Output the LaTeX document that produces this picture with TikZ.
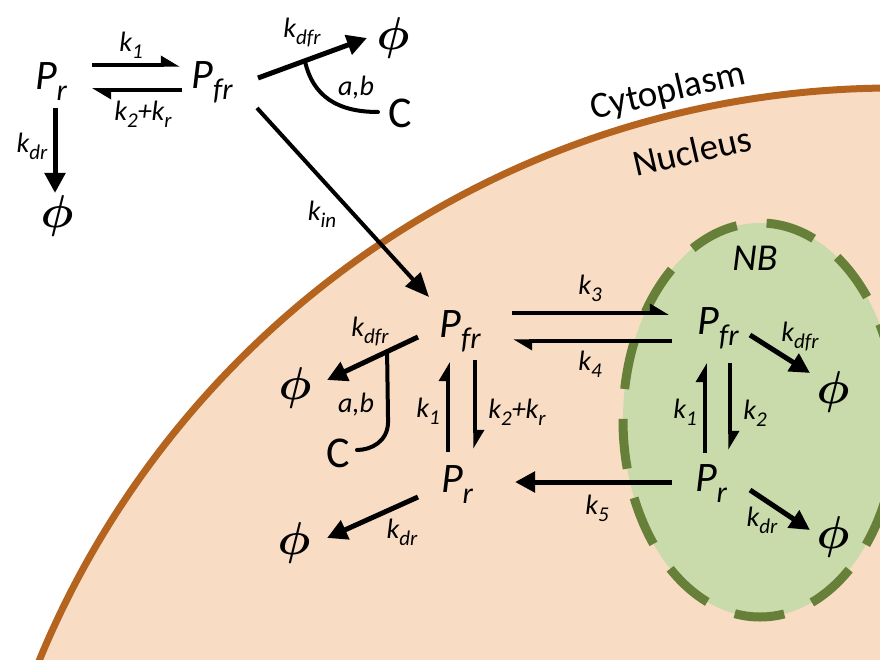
\documentclass[tikz,border=0pt]{standalone}
\usepackage{fontspec}
\setmainfont{Carlito}
\usetikzlibrary{arrows.meta,positioning,calc}
\definecolor{nucfill}{HTML}{F9DCC4}
\definecolor{nucline}{HTML}{B4641E}
\definecolor{nbfill}{HTML}{C9DBAA}
\definecolor{nbline}{HTML}{66803A}
\newcommand\spc[2]{#1\raisebox{-11pt}{\fontsize{30}{30}\selectfont #2}}
\newcommand\rk[1]{k\raisebox{-7pt}{\fontsize{21}{21}\selectfont #1}}
\newcommand\gone{\scalebox{4.6}{\boldmath$\phi$}}

\begin{document}
\begin{tikzpicture}[x=1pt, y=-1pt, mol/.style={font=\fontsize{42}{42}\selectfont\itshape, inner sep=0pt}, rate/.style={font=\fontsize{28}{28}\selectfont\itshape, inner sep=0pt}, sink/.style={inner sep=0pt}, word/.style={font=\fontsize{37}{37}\selectfont, inner sep=0pt}, harp/.style={line width=3.5pt, -{Triangle[left, length=16pt, width=18pt]}}, thk/.style={line width=5pt, -{Triangle[length=20pt, width=20pt]}}, hook/.style={line width=4pt, line cap=round}]
\useasboundingbox (0,0) rectangle (880,660);
% nucleus and nuclear body
\begin{scope}
\clip (0,0) rectangle (880,660);
\fill[nucfill] (894,1012) circle[radius=924];
\draw[nucline, line width=7pt] (894,1012) circle[radius=924];
\filldraw[fill=nbfill, draw=nbline, line width=9pt, dash pattern=on 50pt off 30pt] (760,420) ellipse[x radius=137, y radius=197];
\end{scope}
\node[word, rotate=13] (cyto) at (668,92) {Cytoplasm};
\node[word, rotate=13] (nuc) at (692,151) {Nucleus};
\node[word, font=\fontsize{38}{38}\selectfont\itshape] (nb) at (755,258) {NB};
% cytoplasm species
\node[mol] (pr) at (51,82) {\spc{P}{r}};
\node[mol] (pfr) at (212,82) {\spc{P}{fr}};
\node[sink] (phi1) at (57,216) {\gone};
\node[sink] (phi2) at (393,38) {\gone};
\node[mol, font=\fontsize{44}{44}\selectfont] (c1) at (400,113) {C};
% nucleoplasm species
\node[mol] (pfrn) at (460,331) {\spc{P}{fr}};
\node[mol] (prn) at (457,485) {\spc{P}{r}};
\node[sink] (phi3) at (295,388) {\gone};
\node[sink] (phi4) at (294,543) {\gone};
\node[mol, font=\fontsize{44}{44}\selectfont] (c2) at (338,453) {C};
% nuclear body species
\node[mol] (pfrb) at (718,328) {\spc{P}{fr}};
\node[mol] (prb) at (711,484) {\spc{P}{r}};
\node[sink] (phi5) at (833,392) {\gone};
\node[sink] (phi6) at (833,537) {\gone};
% cytoplasm reactions
\draw[harp] ([shift={(41,-17)}]pr.center) -- ([shift={(-32,-17)}]pfr.center);
\draw[harp] ([shift={(-30,8)}]pfr.center) -- ([shift={(41,8)}]pr.center);
\draw[thk] ([shift={(4,26)}]pr.center) -- ([shift={(-2,-23)}]phi1.center);
\draw[thk] ([shift={(46,-4)}]pfr.center) -- coordinate[pos=0.43] (j1) ([shift={(-26,0)}]phi2.center);
\draw[hook] (j1) .. controls +(8,36) and +(-40,0) .. ([shift={(-22,-1)}]c1.center);
\draw[line width=4pt, -{Triangle[length=24pt, width=20pt]}] ([shift={(45,26)}]pfr.center) -- ([shift={(-31,-34)}]pfrn.center);
\node[rate] (k1a) at (131,45) {\rk{1}};
\node[rate] (k2a) at (143,114) {\rk{2}+\rk{r}};
\node[rate] (kdra) at (32,146) {\rk{dr}};
\node[rate] (kdfra) at (302,33) {\rk{dfr}};
\node[rate] (aba) at (356,88) {a,b};
\node[rate] (kin) at (322,214) {\rk{in}};
% nucleoplasm reactions
\draw[harp] ([shift={(52,-18)}]pfrn.center) -- ([shift={(-49,-15)}]pfrb.center);
\draw[harp] ([shift={(-46,13)}]pfrb.center) -- ([shift={(53,10)}]pfrn.center);
\draw[thk] ([shift={(-39,-2)}]prb.center) -- ([shift={(58,-3)}]prn.center);
\draw[harp] ([shift={(-9,-33)}]prn.center) -- ([shift={(-12,31)}]pfrn.center);
\draw[harp] ([shift={(15,29)}]pfrn.center) -- ([shift={(18,-36)}]prn.center);
\draw[thk] ([shift={(-42,6)}]pfrn.center) -- coordinate[pos=0.34] (j2) ([shift={(32,-8)}]phi3.center);
\draw[hook] (j2) -- ($(j2)+(1,70)$) .. controls +(0,20) and +(14,0) .. ([shift={(19,-3)}]c2.center);
\draw[thk] ([shift={(-39,12)}]prn.center) -- ([shift={(33,-5)}]phi4.center);
\node[rate] (k3) at (590,288) {\rk{3}};
\node[rate] (k4) at (590,364) {\rk{4}};
\node[rate] (k5) at (597,508) {\rk{5}};
\node[rate] (kdfrn) at (370,332) {\rk{dfr}};
\node[rate] (abn) at (356,405) {a,b};
\node[rate] (k1n) at (428,411) {\rk{1}};
\node[rate] (k2n) at (517,412) {\rk{2}+\rk{r}};
\node[rate] (kdrn) at (402,532) {\rk{dr}};
% nuclear body reactions
\draw[harp] ([shift={(-6,-31)}]prb.center) -- ([shift={(-13,35)}]pfrb.center);
\draw[harp] ([shift={(12,35)}]pfrb.center) -- ([shift={(19,-34)}]prb.center);
\draw[thk] ([shift={(32,7)}]pfrb.center) -- ([shift={(-23,-19)}]phi5.center);
\draw[thk] ([shift={(39,6)}]prb.center) -- ([shift={(-23,-7)}]phi6.center);
\node[rate] (k1b) at (685,412) {\rk{1}};
\node[rate] (k2b) at (755,413) {\rk{2}};
\node[rate] (kdfrb) at (800,337) {\rk{dfr}};
\node[rate] (kdrb) at (762,520) {\rk{dr}};
\end{tikzpicture}
\end{document}
